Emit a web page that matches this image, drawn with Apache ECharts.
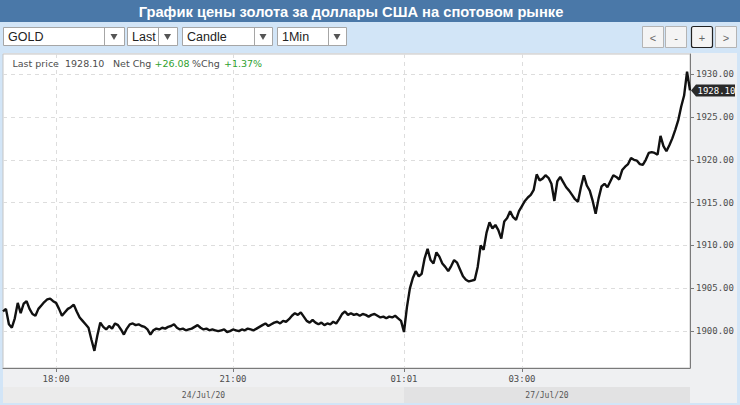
<!DOCTYPE html>
<html>
<head>
<meta charset="utf-8">
<script src="https://cdn.jsdelivr.net/npm/echarts@6/dist/echarts.min.js"></script>
<style>
html,body{margin:0;padding:0;background:#d2e5f7;}
#c{width:740px;height:405px;}
</style>
</head>
<body>
<div id="c"></div>
<script>
// ---------- texts ----------
const titleText = 'График цены золота за доллары США на спотовом рынке';
const dropdownLabels = ['GOLD', 'Last', 'Candle', '1Min'];
const navButtons = ['<', '-', '+', '>'];
const dateLabels = ['24/Jul/20', '27/Jul/20'];
const xTickLabels = ['18:00', '21:00', '01:01', '03:00'];
const yTicks = [1900, 1905, 1910, 1915, 1920, 1925, 1930];
const lastPrice = 1928.10;
const netChg = 26.08;
const pctChg = 1.37;

// ---------- data (3-minute closes) ----------
const fridayPrices = [
1902.3,1902.6,1900.8,1900.4,1901.5,1903.3,1902.1,1903.2,1903.5,1902.6,
1902.0,1901.8,1902.6,1903.0,1903.4,1903.7,1903.8,1903.5,1903.3,1902.6,
1901.8,1902.2,1902.6,1902.8,1903.1,1902.3,1901.6,1901.2,1900.8,1900.4,
1899.0,1897.7,1899.5,1901.0,1900.5,1900.2,1900.6,1900.3,1900.9,1900.7,
1900.2,1899.6,1900.3,1900.8,1900.9,1900.7,1900.8,1900.6,1900.5,1900.2,
1899.6,1900.1,1900.3,1900.2,1900.4,1900.3,1900.5,1900.6,1900.8,1900.4,
1900.2,1900.3,1900.1,1900.2,1900.3,1900.5,1900.7,1900.4,1900.2,1900.3,
1900.1,1900.2,1900.1,1900.0,1900.1,1900.2,1899.9,1900.0,1900.2,1900.1,
1900.0,1900.2,1900.1,1900.3,1900.2,1900.1,1900.3,1900.5,1900.7,1900.9,
1900.6,1900.8,1901.0,1901.1,1900.9,1901.2,1901.1,1901.4,1901.8,1902.1,
1901.9,1902.2,1901.7,1901.2,1901.0,1901.3,1901.0,1900.8,1901.0,1900.7,
1900.9,1900.8,1901.1,1900.9,1901.4,1902.0,1902.3,1901.9,1902.1,1901.9,
1902.0,1901.8,1902.0,1901.9,1901.7,1901.9,1902.0,1901.8,1901.6,1901.7,
1901.5,1901.7,1901.6,1901.8,1901.5,1901.2
];
const mondayPrices = [
1899.9,1902.8,1905.0,1906.2,1907.0,1906.4,1906.7,1908.5,1909.6,1908.3,
1907.9,1909.2,1908.7,1907.9,1907.5,1907.0,1907.6,1908.3,1908.0,1907.2,
1906.4,1906.0,1905.8,1905.9,1906.0,1907.5,1910.0,1909.5,1911.5,1912.7,
1912.0,1912.4,1911.8,1910.8,1912.8,1913.2,1914.0,1913.3,1913.0,1914.0,
1914.6,1915.2,1915.6,1915.9,1916.5,1918.3,1917.6,1917.8,1918.2,1917.9,
1917.2,1915.2,1917.5,1918.0,1917.4,1916.8,1916.4,1915.9,1915.4,1915.1,
1916.8,1918.2,1917.0,1916.4,1915.2,1913.7,1915.5,1916.9,1917.2,1916.8,
1917.5,1918.2,1918.0,1917.7,1918.8,1919.2,1919.5,1920.2,1920.0,1919.9,
1919.5,1919.4,1920.0,1920.8,1920.9,1920.8,1920.6,1922.8,1921.6,1921.0,
1921.7,1922.5,1923.5,1924.6,1926.2,1927.5,1930.3,1928.1
];

// category labels: session time stamps (3-minute bars)
function buildTimes(start, count, step) {
  const p = start.split(':').map(Number);
  const t0 = p[0] * 60 + p[1];
  const out = [];
  for (let k = 0; k < count; k++) {
    const t = (t0 + k * step) % 1440;
    out.push(String(Math.floor(t / 60)).padStart(2, '0') + ':' + String(t % 60).padStart(2, '0'));
  }
  return out;
}
const fridayTimes = buildTimes('17:06', fridayPrices.length, 3);
const mondayTimes = ['01:01'].concat(buildTimes('01:03', mondayPrices.length - 1, 3));
const categories = fridayTimes.concat(mondayTimes);
const prices = fridayPrices.concat(mondayPrices);
const dateBreakIndex = fridayPrices.length;

// ---------- chart ----------
const chart = echarts.init(document.getElementById('c'), null, {renderer: 'svg', width: 740, height: 405});

const isTick = (idx, val) => xTickLabels.indexOf(val) >= 0;
const MONO = '"DejaVu Sans Mono", monospace';
const UI = '"Liberation Sans", Arial, sans-serif';

function baseGraphics() {
  const els = [];
  // title bar
  els.push({type: 'rect', z: -10, shape: {x: 0, y: 0, width: 740, height: 22}, style: {fill: '#4a78a8'}});
  els.push({type: 'text', z: 10, x: 351, y: 11.5, style: {text: titleText, font: 'bold 14.7px ' + UI, fill: '#ffffff', textAlign: 'center', textVerticalAlign: 'middle'}});
  // dropdowns
  const dd = [[3, 121, 20], [127, 50, 19], [182, 90, 18], [277, 69, 18]];
  dd.forEach((d, i) => {
    const x = d[0], w = d[1], aw = d[2];
    const cx = x + w - aw / 2;
    els.push({type: 'rect', z: 1, shape: {x: x + 0.5, y: 27.5, width: w, height: 18}, style: {fill: '#ffffff', stroke: '#a6a6a6', lineWidth: 1}});
    els.push({type: 'line', z: 2, shape: {x1: x + w - aw + 0.5, y1: 27.5, x2: x + w - aw + 0.5, y2: 45.5}, style: {stroke: '#a6a6a6', lineWidth: 1}});
    els.push({type: 'polygon', z: 2, shape: {points: [[cx - 3.5, 34], [cx + 3.5, 34], [cx, 40]]}, style: {fill: '#555555'}});
    els.push({type: 'text', z: 2, x: x + 5, y: 37, style: {text: dropdownLabels[i], font: '12.5px ' + UI, fill: '#222222', textVerticalAlign: 'middle'}});
  });
  // nav buttons
  const bx = [642, 665, 691, 715];
  navButtons.forEach((b, i) => {
    const active = b === '+';
    els.push({type: 'rect', z: 1, shape: {x: bx[i] + 0.5, y: 26.5, width: 21, height: 21, r: active ? 2 : 0},
      style: {fill: '#f4f4f4', stroke: active ? '#222222' : '#b4b4b4', lineWidth: active ? 1.2 : 1}});
    els.push({type: 'text', z: 2, x: bx[i] + 11, y: 37.5, style: {text: b, font: '11px ' + UI, fill: '#666666', textAlign: 'center', textVerticalAlign: 'middle'}});
  });
  // chart panel
  els.push({type: 'rect', z: -10, shape: {x: 3, y: 53, width: 734, height: 350}, style: {fill: '#eff0f2'}});
  // legend line
  const lg = [
    [12.5, 'Last price', '#4d4d4d'],
    [65, lastPrice.toFixed(2), '#4d4d4d'],
    [113, 'Net Chg', '#4d4d4d'],
    [154.5, '+' + netChg.toFixed(2), '#2f9f2f'],
    [192, '%Chg', '#4d4d4d'],
    [224, '+' + pctChg.toFixed(2) + '%', '#2f9f2f']
  ];
  lg.forEach(l => {
    els.push({type: 'text', z: 20, x: l[0], y: 63.5, style: {text: l[1], font: '9.5px "DejaVu Sans", sans-serif', fill: l[2], textVerticalAlign: 'middle'}});
  });
  return els;
}

const option = {
  animation: false,
  backgroundColor: 'transparent',
  grid: {left: 3, right: 50, top: 54, bottom: 37, show: true, backgroundColor: '#ffffff', borderColor: '#c4c4c4', borderWidth: 1, containLabel: false},
  xAxis: {
    type: 'category', data: categories, boundaryGap: false,
    axisLine: {show: true, lineStyle: {color: '#7a7a7a', width: 1}},
    axisTick: {show: true, length: 4, interval: isTick, lineStyle: {color: '#7a7a7a'}},
    axisLabel: {interval: isTick, fontFamily: MONO, fontSize: 9, color: '#4d4d4d', margin: 6},
    splitLine: {show: true, interval: isTick, lineStyle: {color: '#dddddd', type: [4, 4]}}
  },
  yAxis: {
    type: 'value', position: 'right', min: 1895.7, max: 1932.35, scale: true,
    axisLine: {show: true, lineStyle: {color: '#7a7a7a', width: 1}},
    axisTick: {show: true, length: 4, customValues: yTicks, lineStyle: {color: '#7a7a7a'}},
    axisLabel: {customValues: yTicks, formatter: v => Number(v).toFixed(2), fontFamily: MONO, fontSize: 9, color: '#4d4d4d', margin: 6},
    splitLine: {show: true, lineStyle: {color: '#dddddd', type: [4, 4]}}
  },
  series: [{
    type: 'line', data: prices, showSymbol: false, silent: true,
    lineStyle: {color: '#111111', width: 2.4}, z: 5
  }],
  graphic: {elements: baseGraphics()}
};
chart.setOption(option);

// overlays tied to the axes (date band, last-price marker)
const xStart = chart.convertToPixel({xAxisIndex: 0}, 0);
const xBreak = chart.convertToPixel({xAxisIndex: 0}, dateBreakIndex);
const xEnd = chart.convertToPixel({xAxisIndex: 0}, categories.length - 1);
const yLast = chart.convertToPixel({yAxisIndex: 0}, lastPrice);
const extra = [
  {type: 'rect', z: -5, shape: {x: xStart, y: 387, width: xBreak - xStart, height: 16}, style: {fill: '#ebebeb'}},
  {type: 'rect', z: -5, shape: {x: xBreak, y: 387, width: xEnd - xBreak, height: 16}, style: {fill: '#e2e2e3'}},
  {type: 'text', z: 10, x: (xStart + xBreak) / 2, y: 395.5, style: {text: dateLabels[0], font: '8px ' + MONO, fill: '#555555', textAlign: 'center', textVerticalAlign: 'middle'}},
  {type: 'text', z: 10, x: (xBreak + xEnd) / 2, y: 395.5, style: {text: dateLabels[1], font: '8px ' + MONO, fill: '#555555', textAlign: 'center', textVerticalAlign: 'middle'}},
  {type: 'polygon', z: 30, shape: {points: [[xEnd + 1, yLast], [xEnd + 6, yLast - 6], [735, yLast - 6], [735, yLast + 6], [xEnd + 6, yLast + 6]]}, style: {fill: '#2a2a2a'}},
  {type: 'text', z: 31, x: 716.5, y: yLast + 0.5, style: {text: lastPrice.toFixed(2), font: '9px ' + MONO, fill: '#ffffff', textAlign: 'center', textVerticalAlign: 'middle'}}
];
chart.setOption({graphic: {elements: baseGraphics().concat(extra)}});
</script>
</body>
</html>
